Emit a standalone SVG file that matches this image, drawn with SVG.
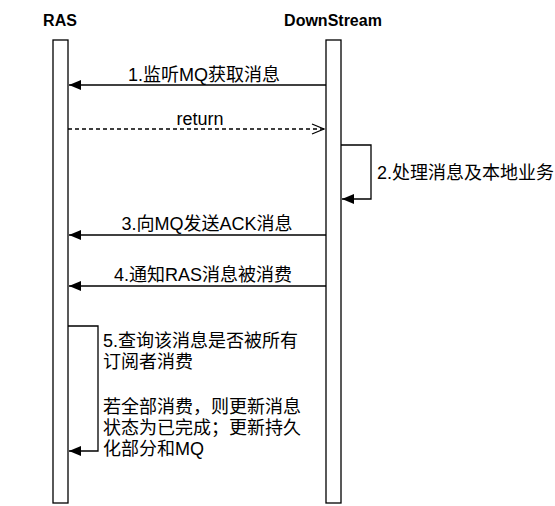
<svg xmlns="http://www.w3.org/2000/svg" width="555" height="506" viewBox="0 0 555 506">
<style>
.t{font-family:"Liberation Sans","Noto Sans CJK SC",sans-serif;font-size:18px;fill:#000}
.h{font-family:"Liberation Sans","Noto Sans CJK SC",sans-serif;font-size:16px;font-weight:bold;fill:#000}
.ll{fill:#fff;stroke:#000;stroke-width:1.3}
.c{fill:none;stroke:#000;stroke-width:1.3}
.d{fill:none;stroke:#000;stroke-width:1.3;stroke-dasharray:4 3}
</style>
<defs>
<marker id="fa" markerWidth="12" markerHeight="10" refX="12" refY="5" orient="auto" markerUnits="userSpaceOnUse">
<path d="M0,0 L12,5 L0,10 Z" fill="#000"/>
</marker>
<marker id="oa" markerWidth="14" markerHeight="12" refX="13" refY="6" orient="auto" markerUnits="userSpaceOnUse">
<path d="M1,1 L13,6 L1,11" fill="none" stroke="#000" stroke-width="1.3"/>
</marker>
</defs>
<rect width="555" height="506" fill="#fff"/>
<g id="ras">
<text class="h" x="60" y="26" text-anchor="middle">RAS</text>
<rect class="ll" x="53" y="40" width="15" height="463"/>
</g>
<g id="downstream">
<text class="h" x="333" y="26" text-anchor="middle">DownStream</text>
<rect class="ll" x="326" y="40" width="15" height="463"/>
</g>
<g id="connectors">
<line class="c" x1="326" y1="85" x2="69" y2="85" marker-end="url(#fa)"/>
<text class="t" x="204" y="81" text-anchor="middle">1.监听MQ获取消息</text>
<line class="d" x1="68" y1="129" x2="324" y2="129" marker-end="url(#oa)"/>
<text class="t" x="200" y="125" text-anchor="middle">return</text>
<polyline class="c" points="341,145 371,145 371,199 342,199" marker-end="url(#fa)"/>
<text class="t" x="377" y="179">2.处理消息及本地业务</text>
<line class="c" x1="326" y1="235" x2="69" y2="235" marker-end="url(#fa)"/>
<text class="t" x="207" y="230" text-anchor="middle">3.向MQ发送ACK消息</text>
<line class="c" x1="326" y1="286" x2="69" y2="286" marker-end="url(#fa)"/>
<text class="t" x="203" y="281" text-anchor="middle">4.通知RAS消息被消费</text>
<polyline class="c" points="68,326 98,326 98,451 69,451" marker-end="url(#fa)"/>
<text class="t" x="103" y="347">5.查询该消息是否被所有</text>
<text class="t" x="103" y="368">订阅者消费</text>
<text class="t" x="103" y="413">若全部消费，则更新消息</text>
<text class="t" x="103" y="434">状态为已完成；更新持久</text>
<text class="t" x="103" y="455">化部分和MQ</text>
</g>
</svg>
